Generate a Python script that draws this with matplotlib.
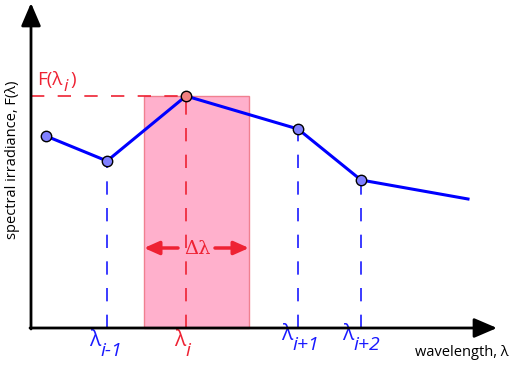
import matplotlib
matplotlib.use("Agg")
import matplotlib.pyplot as plt
from matplotlib.patches import Rectangle

plt.rcParams['font.family'] = ['Open Sans', 'DejaVu Sans']

# data (arbitrary units: wavelength, irradiance)
wavelength = [15, 76, 155, 267, 330, 437]
irradiance = [192, 167, 232, 199, 148, 129]
marker_idx = [0, 1, 3, 4]
peak_idx = 2
band = (113, 218)
tick_idx = [1, 2, 3, 4]
tick_subs = ['i-1', 'i', 'i+1', 'i+2']
tick_colors = ['#1a1aff', '#ee2233', '#1a1aff', '#1a1aff']
tick_dx = [-7, -1, -6, -8]
tick_dy = [-13, -13, -7, -7]

W, H = 509, 367
fig = plt.figure(figsize=(W / 100, H / 100), dpi=100)
ax = fig.add_axes([0, 0, 1, 1])
ax.set_xlim(-31, W - 31)
ax.set_ylim(-39, H - 39)
ax.axis('off')

pink = '#ffb0cc'
red = '#ee2233'

# band rectangle
ax.add_patch(Rectangle((band[0], 0), band[1] - band[0], irradiance[peak_idx],
                       facecolor=pink, edgecolor='#f08090', lw=1, zorder=1))

dash = (0, (8, 8))
for k, i in enumerate(tick_idx):
    ax.plot([wavelength[i], wavelength[i]], [0, irradiance[i]], color=tick_colors[k],
            lw=1.2, linestyle=dash, zorder=2)
ax.plot([0, wavelength[peak_idx]], [irradiance[peak_idx]] * 2, color=red, lw=1.2,
        linestyle=dash, zorder=2)

# spectrum line
ax.plot(wavelength, irradiance, color='#0000ff', lw=2.2, zorder=3)
ax.plot([wavelength[i] for i in marker_idx], [irradiance[i] for i in marker_idx], 'o',
        ms=7.5, mfc='#8080ff', mec='black', mew=1, zorder=4)
ax.plot([wavelength[peak_idx]], [irradiance[peak_idx]], 'o', ms=7.5, mfc='#f08080',
        mec='black', mew=1, zorder=4)

# axes with arrows
ax.annotate('', xy=(0, 325), xytext=(0, -1),
            arrowprops=dict(arrowstyle='-|>,head_length=1.4,head_width=0.6', color='black',
                            lw=2, shrinkA=0, shrinkB=0), zorder=5)
ax.annotate('', xy=(466, 0), xytext=(-1, 0),
            arrowprops=dict(arrowstyle='-|>,head_length=1.4,head_width=0.6', color='black',
                            lw=2, shrinkA=0, shrinkB=0), zorder=5)

# delta lambda arrows
ymid = 80
ax.annotate('', xy=(band[0], ymid), xytext=(band[0] + 34, ymid),
            arrowprops=dict(arrowstyle='-|>,head_length=0.9,head_width=0.4', color=red,
                            lw=2.5, shrinkA=0, shrinkB=0), zorder=5)
ax.annotate('', xy=(band[1], ymid), xytext=(band[1] - 34, ymid),
            arrowprops=dict(arrowstyle='-|>,head_length=0.9,head_width=0.4', color=red,
                            lw=2.5, shrinkA=0, shrinkB=0), zorder=5)
ax.text((band[0] + band[1]) / 2 + 1, ymid - 1, 'Δλ', color=red, fontsize=14,
        family=['DejaVu Serif'], ha='center', va='center', zorder=6)

# tick labels: lambda + italic subscript
for k, i in enumerate(tick_idx):
    ax.annotate('λ', xy=(wavelength[i], 0), xytext=(tick_dx[k], tick_dy[k]),
                textcoords='offset pixels', color=tick_colors[k], fontsize=15,
                ha='right', va='center')
    ax.annotate(tick_subs[k], xy=(wavelength[i], 0), xytext=(tick_dx[k], tick_dy[k] - 10),
                textcoords='offset pixels', color=tick_colors[k], fontsize=14,
                style='italic', ha='left', va='center')

# F(lambda_i)
ax.text(6, irradiance[peak_idx] + 16, 'F(λ', color=red, fontsize=13.5, ha='left', va='center')
ax.text(32, irradiance[peak_idx] + 9, 'i', color=red, fontsize=12.5, style='italic',
        ha='left', va='center')
ax.text(39, irradiance[peak_idx] + 16, ')', color=red, fontsize=13.5, ha='left', va='center')

ax.text(478, -25, 'wavelength, λ', fontsize=10.5, ha='right', va='center')
ax.text(-18, 168, 'spectral irradiance, F(λ)', fontsize=10.5, rotation=90,
        ha='center', va='center')

fig.savefig('out.png', dpi=100)
